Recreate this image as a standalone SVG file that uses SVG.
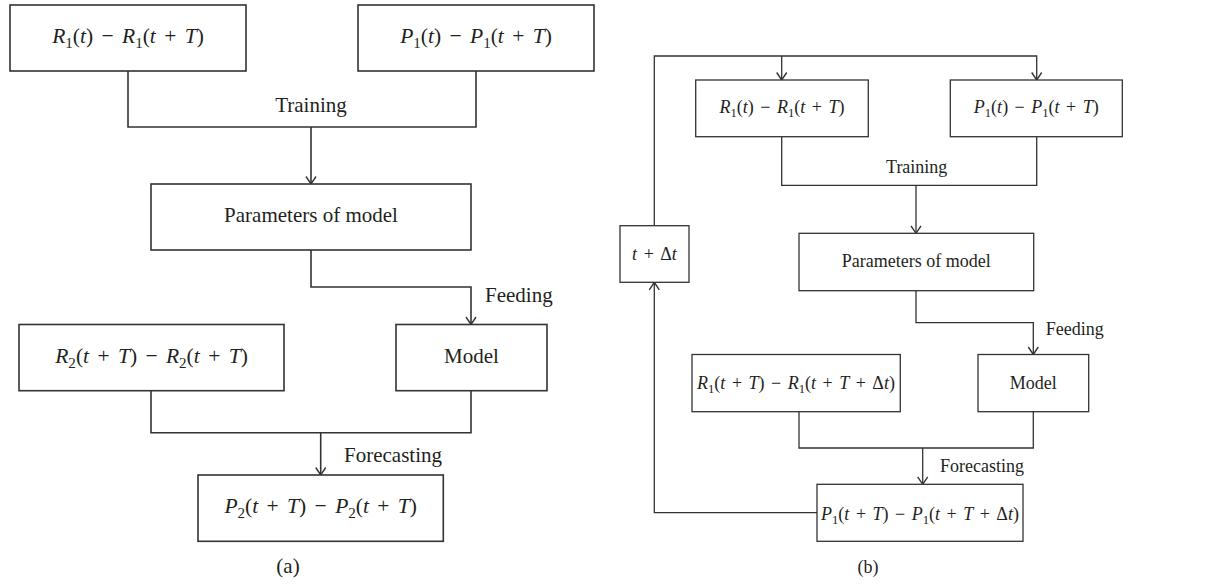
<svg xmlns="http://www.w3.org/2000/svg" width="1215" height="584" viewBox="0 0 1215 584">
  <style>
    text { font-family: "Liberation Serif", "Times New Roman", serif; fill: #231f20; }
    .a { font-size: 21px; }
    .b { font-size: 18px; }
    .c { text-anchor: middle; }
    .ma { font-size: 21.5px; word-spacing: 3px; }
    .mb { word-spacing: 2px; }
    .i { font-style: italic; }
    .s { font-size: 70%; }
    rect { fill: #fff; stroke: #333; }
    .pa rect, #links-a path { stroke-width: 1.6; }
    .pb rect, #links-b path { stroke-width: 1.3; }
    #links-a path, #links-b path { fill: none; stroke: #333; }
  </style>
  <defs>
    <marker id="arr" markerUnits="userSpaceOnUse" markerWidth="14" markerHeight="14" viewBox="-10 -7 14 14" refX="0" refY="0" orient="auto">
      <path d="M-7.5,-5 L0,0 L-7.5,5" fill="none" stroke="#333" stroke-width="1.4"/>
    </marker>
  </defs>
  <rect x="0" y="0" width="1215" height="584" style="fill:#fff;stroke:none"/>

  <!-- panel (a) -->
  <g id="links-a">
    <path d="M128,71 V127 H476 V71"/>
    <path d="M311,127 V184" marker-end="url(#arr)"/>
    <path d="M311,250 V287 H471 V324.5" marker-end="url(#arr)"/>
    <path d="M151,390.7 V432.7 H471 V390.7"/>
    <path d="M320.7,432.7 V475" marker-end="url(#arr)"/>
  </g>
  <text class="a c" x="311" y="112">Training</text>
  <text class="a" x="485" y="302">Feeding</text>
  <text class="a" x="344" y="462">Forecasting</text>

  <g id="a-r1" class="pa">
    <rect x="10" y="5" width="236" height="66"/>
    <text class="a c ma" x="128" y="43"><tspan class="i">R</tspan><tspan class="s" dy="5">1</tspan><tspan dy="-5">(</tspan><tspan class="i">t</tspan>) − <tspan class="i">R</tspan><tspan class="s" dy="5">1</tspan><tspan dy="-5">(</tspan><tspan class="i">t</tspan> + <tspan class="i">T</tspan>)</text>
  </g>
  <g id="a-p1" class="pa">
    <rect x="358" y="5" width="236" height="66"/>
    <text class="a c ma" x="476" y="43"><tspan class="i">P</tspan><tspan class="s" dy="5">1</tspan><tspan dy="-5">(</tspan><tspan class="i">t</tspan>) − <tspan class="i">P</tspan><tspan class="s" dy="5">1</tspan><tspan dy="-5">(</tspan><tspan class="i">t</tspan> + <tspan class="i">T</tspan>)</text>
  </g>
  <g id="a-params" class="pa">
    <rect x="151" y="184" width="320" height="66"/>
    <text class="a c" x="311" y="222">Parameters of model</text>
  </g>
  <g id="a-r2" class="pa">
    <rect x="19" y="324.5" width="265" height="66.2"/>
    <text class="a c ma" x="151.5" y="363"><tspan class="i">R</tspan><tspan class="s" dy="5">2</tspan><tspan dy="-5">(</tspan><tspan class="i">t</tspan> + <tspan class="i">T</tspan>) − <tspan class="i">R</tspan><tspan class="s" dy="5">2</tspan><tspan dy="-5">(</tspan><tspan class="i">t</tspan> + <tspan class="i">T</tspan>)</text>
  </g>
  <g id="a-model" class="pa">
    <rect x="396" y="324.5" width="151" height="66.2"/>
    <text class="a c" x="471.5" y="363">Model</text>
  </g>
  <g id="a-p2" class="pa">
    <rect x="198" y="475" width="245.3" height="66.3"/>
    <text class="a c ma" x="320.7" y="513"><tspan class="i">P</tspan><tspan class="s" dy="5">2</tspan><tspan dy="-5">(</tspan><tspan class="i">t</tspan> + <tspan class="i">T</tspan>) − <tspan class="i">P</tspan><tspan class="s" dy="5">2</tspan><tspan dy="-5">(</tspan><tspan class="i">t</tspan> + <tspan class="i">T</tspan>)</text>
  </g>
  <text class="a c" x="288" y="573">(a)</text>

  <!-- panel (b) -->
  <g id="links-b">
    <path d="M654.3,225.7 V56 H1036.7 V80" marker-end="url(#arr)"/>
    <path d="M781.7,56 V80" marker-end="url(#arr)"/>
    <path d="M781.7,136.7 V185.3 H1036.7 V136.7"/>
    <path d="M916,185.3 V233.3" marker-end="url(#arr)"/>
    <path d="M916,290.7 V322.7 H1033.3 V354.5" marker-end="url(#arr)"/>
    <path d="M799,411.7 V448 H1033.3 V411.7"/>
    <path d="M922.7,448 V484.3" marker-end="url(#arr)"/>
    <path d="M817,512.7 H654.3 V282.3" marker-end="url(#arr)"/>
  </g>
  <text class="b c" x="916.7" y="173">Training</text>
  <text class="b" x="1045.7" y="335">Feeding</text>
  <text class="b" x="940" y="471.7">Forecasting</text>

  <g id="b-r1" class="pb">
    <rect x="695.7" y="80" width="172.6" height="56.7"/>
    <text class="b c mb" x="782" y="113"><tspan class="i">R</tspan><tspan class="s" dy="4">1</tspan><tspan dy="-4">(</tspan><tspan class="i">t</tspan>) − <tspan class="i">R</tspan><tspan class="s" dy="4">1</tspan><tspan dy="-4">(</tspan><tspan class="i">t</tspan> + <tspan class="i">T</tspan>)</text>
  </g>
  <g id="b-p1" class="pb">
    <rect x="950.3" y="80" width="172" height="56.7"/>
    <text class="b c mb" x="1036.3" y="113"><tspan class="i">P</tspan><tspan class="s" dy="4">1</tspan><tspan dy="-4">(</tspan><tspan class="i">t</tspan>) − <tspan class="i">P</tspan><tspan class="s" dy="4">1</tspan><tspan dy="-4">(</tspan><tspan class="i">t</tspan> + <tspan class="i">T</tspan>)</text>
  </g>
  <g id="b-step" class="pb">
    <rect x="620" y="225.7" width="69" height="56.6"/>
    <text class="b c mb" x="654.5" y="260"><tspan class="i">t</tspan> + Δ<tspan class="i">t</tspan></text>
  </g>
  <g id="b-params" class="pb">
    <rect x="799" y="233.3" width="234.7" height="57.4"/>
    <text class="b c" x="916.3" y="266.7">Parameters of model</text>
  </g>
  <g id="b-r1next" class="pb">
    <rect x="692" y="354.5" width="208.3" height="57.2"/>
    <text class="b c mb" x="796" y="389"><tspan class="i">R</tspan><tspan class="s" dy="4">1</tspan><tspan dy="-4">(</tspan><tspan class="i">t</tspan> + <tspan class="i">T</tspan>) − <tspan class="i">R</tspan><tspan class="s" dy="4">1</tspan><tspan dy="-4">(</tspan><tspan class="i">t</tspan> + <tspan class="i">T</tspan> + Δ<tspan class="i">t</tspan>)</text>
  </g>
  <g id="b-model" class="pb">
    <rect x="978" y="354.5" width="110.7" height="57.2"/>
    <text class="b c" x="1033.3" y="389">Model</text>
  </g>
  <g id="b-p1next" class="pb">
    <rect x="817" y="484.3" width="206" height="57"/>
    <text class="b c mb" x="920" y="520"><tspan class="i">P</tspan><tspan class="s" dy="4">1</tspan><tspan dy="-4">(</tspan><tspan class="i">t</tspan> + <tspan class="i">T</tspan>) − <tspan class="i">P</tspan><tspan class="s" dy="4">1</tspan><tspan dy="-4">(</tspan><tspan class="i">t</tspan> + <tspan class="i">T</tspan> + Δ<tspan class="i">t</tspan>)</text>
  </g>
  <text class="b c" x="868" y="573">(b)</text>
</svg>
